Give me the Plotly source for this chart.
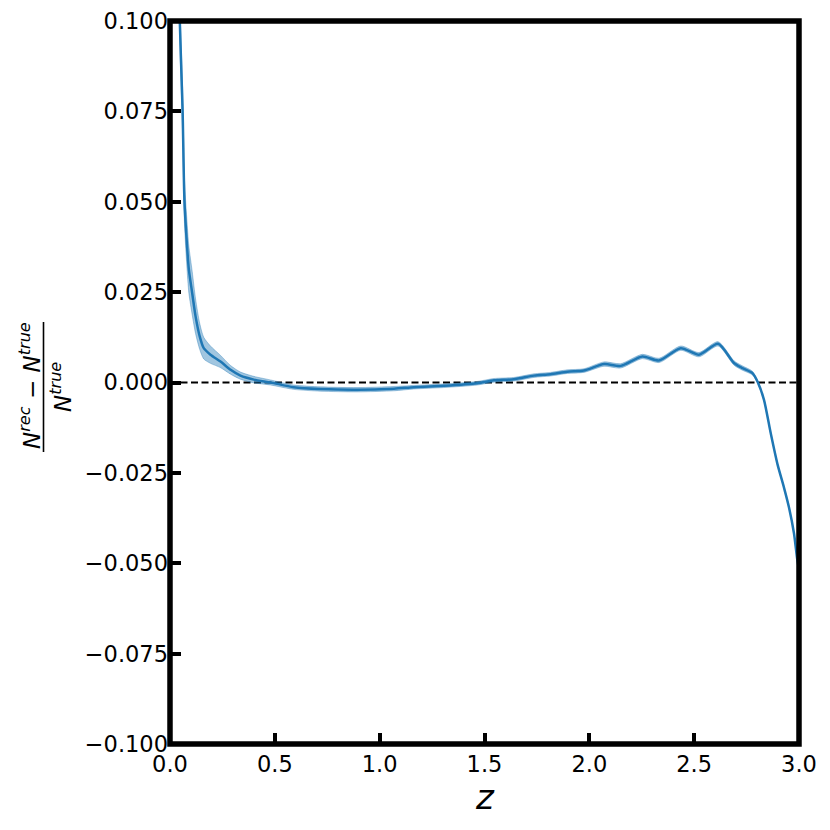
import plotly.graph_objects as go

# ---- data ----
z = [0.035, 0.047, 0.060, 0.069, 0.080, 0.090, 0.106, 0.122, 0.142, 0.161,
     0.193, 0.241, 0.289, 0.336, 0.400, 0.480, 0.590, 0.718, 0.893, 1.068,
     1.163, 1.306, 1.466, 1.545, 1.640, 1.736, 1.815, 1.895, 1.974, 2.070,
     2.149, 2.253, 2.332, 2.436, 2.523, 2.614, 2.690, 2.730, 2.778, 2.804,
     2.833, 2.865, 2.897, 2.929, 2.952, 2.976, 2.992, 3.000]
ratio = [0.140, 0.0995, 0.0755, 0.0500, 0.0390, 0.0312, 0.0247, 0.0183, 0.0127, 0.0095,
         0.0077, 0.0058, 0.0035, 0.0019, 0.0008, 0.0000, -0.0013, -0.0018, -0.0020, -0.0017,
         -0.0013, -0.0009, -0.0002, 0.0006, 0.0009, 0.0019, 0.0023, 0.0030, 0.0033, 0.0051,
         0.0046, 0.0072, 0.0061, 0.0095, 0.0077, 0.0107, 0.0054, 0.0040, 0.0026, 0.0000,
         -0.0048, -0.0140, -0.0225, -0.0292, -0.0345, -0.0417, -0.0491, -0.0515]
halfwidth = [0.005, 0.005, 0.006, 0.006, 0.0065, 0.0065, 0.006, 0.0048, 0.0036, 0.003,
             0.0024, 0.0017, 0.0012, 0.001, 0.0009, 0.0007, 0.0006, 0.0006, 0.0006, 0.0006,
             0.0005, 0.0005, 0.0005, 0.0005, 0.0005, 0.0005, 0.0005, 0.0005, 0.0005, 0.0006,
             0.0006, 0.0006, 0.0006, 0.0006, 0.0006, 0.0006, 0.0006, 0.0006, 0.0005, 0.0003,
             0.0002, 0.0002, 0.0002, 0.0002, 0.0002, 0.0002, 0.0002, 0.0002]

x_ticks = [0.0, 0.5, 1.0, 1.5, 2.0, 2.5, 3.0]
x_ticktext = ["0.0", "0.5", "1.0", "1.5", "2.0", "2.5", "3.0"]
y_ticks = [-0.1, -0.075, -0.05, -0.025, 0.0, 0.025, 0.05, 0.075, 0.1]
y_ticktext = ["\u22120.100", "\u22120.075", "\u22120.050", "\u22120.025", "0.000",
              "0.025", "0.050", "0.075", "0.100"]

# ---- layout geometry ----
W, H = 830, 830
ML, MR, MT, MB = 170, 31, 21, 86
PW, PH = W - ML - MR, H - MT - MB


def px_x(px):
    return (px - ML) / PW


def px_y(py):
    return (H - MB - py) / PH


FONT = "DejaVu Sans"
BLUE = "#1f77b4"

upper = [r + h for r, h in zip(ratio, halfwidth)]
lower = [r - h for r, h in zip(ratio, halfwidth)]

fig = go.Figure()
fig.add_trace(go.Scatter(x=z, y=upper, mode="lines",
                         line=dict(color="rgba(31,119,180,0.45)", width=0.8,
                                   shape="spline", smoothing=0.7),
                         hoverinfo="skip", showlegend=False))
fig.add_trace(go.Scatter(x=z, y=lower, mode="lines", fill="tonexty",
                         fillcolor="rgba(31,119,180,0.42)",
                         line=dict(color="rgba(31,119,180,0.45)", width=0.8,
                                   shape="spline", smoothing=0.7),
                         hoverinfo="skip", showlegend=False))
fig.add_trace(go.Scatter(x=z, y=ratio, mode="lines",
                         line=dict(color=BLUE, width=2.5, shape="spline", smoothing=0.7),
                         showlegend=False))

shapes = [
    dict(type="line", xref="paper", yref="y", x0=0, x1=1, y0=0, y1=0,
         line=dict(color="black", width=2, dash="7px,3.5px"), layer="below"),
    dict(type="rect", xref="paper", yref="paper", x0=0, x1=1, y0=0, y1=1,
         line=dict(color="black", width=5.5), layer="above"),
    # fraction bar of the y label
    dict(type="line", xref="paper", yref="paper",
         x0=px_x(43.5), x1=px_x(43.5), y0=px_y(322), y1=px_y(452),
         line=dict(color="black", width=1.6)),
]

annotations = [
    dict(text="<i>N</i><sup><i>rec</i></sup> \u2212 <i>N</i><sup><i>true</i></sup>",
         xref="paper", yref="paper", x=px_x(30), y=px_y(386), textangle=-90,
         showarrow=False, xanchor="center", yanchor="middle",
         font=dict(family=FONT, size=23, color="black")),
    dict(text="<i>N</i><sup><i>true</i></sup>",
         xref="paper", yref="paper", x=px_x(61), y=px_y(387), textangle=-90,
         showarrow=False, xanchor="center", yanchor="middle",
         font=dict(family=FONT, size=23, color="black")),
    dict(text="<i>z</i>", xref="paper", yref="paper", x=0.5, y=px_y(797),
         showarrow=False, xanchor="center", yanchor="middle",
         font=dict(family=FONT, size=34, color="black")),
]

fig.update_layout(
    width=W, height=H,
    margin=dict(l=ML, r=MR, t=MT, b=MB, pad=0, autoexpand=False),
    paper_bgcolor="white", plot_bgcolor="white",
    shapes=shapes, annotations=annotations,
    showlegend=False,
    font=dict(family=FONT, size=22.5, color="black"),
)
fig.update_xaxes(range=[0, 3], tickvals=x_ticks, ticktext=x_ticktext,
                 ticks="inside", ticklen=11, tickwidth=3.5, tickcolor="black",
                 showgrid=False, zeroline=False, showline=False, automargin=False,
                 tickfont=dict(family=FONT, size=22.5, color="black"),
                 ticklabelstandoff=4)
fig.update_yaxes(range=[-0.1, 0.1], tickvals=y_ticks, ticktext=y_ticktext,
                 ticks="inside", ticklen=11, tickwidth=3.5, tickcolor="black",
                 showgrid=False, zeroline=False, showline=False, automargin=False,
                 tickfont=dict(family=FONT, size=22.5, color="black"),
                 ticklabelstandoff=1)

fig.write_html(
    "out.html",
    config={"displayModeBar": False},
    post_script=("document.documentElement.style.margin='0';"
                 "document.body.style.margin='0';"
                 "document.body.style.overflow='hidden';"
                 "document.documentElement.style.overflow='hidden';"),
)
